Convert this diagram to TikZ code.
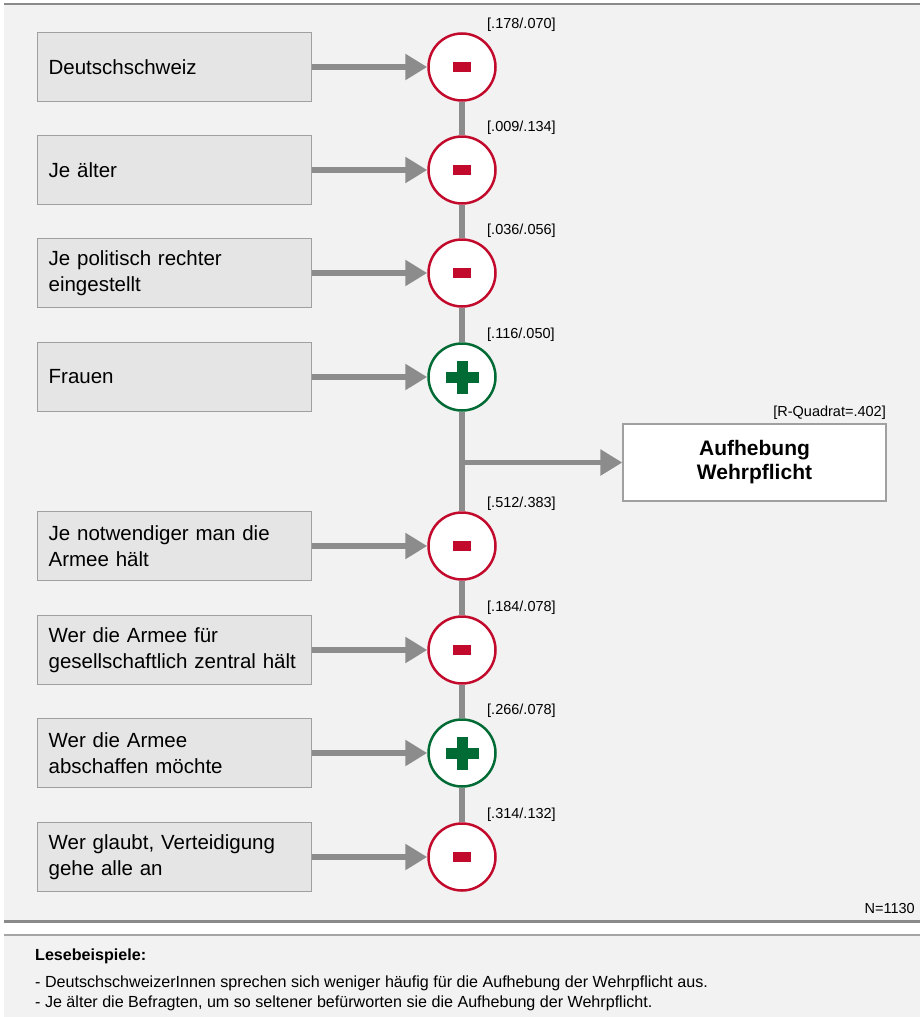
\documentclass[tikz,border=0pt]{standalone}
\usepackage{fontspec}
\setmainfont{Liberation Sans}
\usetikzlibrary{arrows.meta}
\definecolor{bgc}{HTML}{F2F2F2}
\definecolor{boxfill}{HTML}{E4E5E4}
\definecolor{boxborder}{HTML}{A0A0A0}
\definecolor{arrowgray}{HTML}{8C8C8C}
\definecolor{rulegray}{HTML}{8A8A8A}
\definecolor{rulegray2}{HTML}{A5A5A5}
\definecolor{redc}{HTML}{C20B2C}
\definecolor{greenc}{HTML}{006B35}
\tikzset{
  predbox/.style={draw=boxborder, fill=boxfill, line width=1.3pt, minimum width=274pt, minimum height=69pt,
    text width=252pt, align=left, inner xsep=11pt, inner ysep=0pt, anchor=west,
    font=\fontsize{20.5}{26}\selectfont},
  circred/.style={circle, draw=redc, fill=white, line width=2.5pt, minimum size=67pt, inner sep=0pt},
  circgreen/.style={circle, draw=greenc, fill=white, line width=2.5pt, minimum size=67pt, inner sep=0pt},
  minusbar/.style={fill=redc, minimum width=18pt, minimum height=10pt, inner sep=0pt},
  plush/.style={fill=greenc, minimum width=33pt, minimum height=11pt, inner sep=0pt},
  plusv/.style={fill=greenc, minimum width=11pt, minimum height=33pt, inner sep=0pt},
  conn/.style={draw=arrowgray, line width=5.5pt},
  arr/.style={conn, -{Triangle[length=22pt,width=25pt]}},
  lbl/.style={anchor=west, inner sep=0pt, font=\fontsize{14.5}{17}\selectfont},
  target/.style={draw=boxborder, fill=white, line width=1.3pt, minimum width=263pt, minimum height=77pt,
    align=center, inner sep=0pt, font=\fontsize{21}{24}\selectfont\bfseries},
  foot/.style={anchor=west, inner sep=0pt, font=\fontsize{16.1}{19}\selectfont}
}
\begin{document}
\begin{tikzpicture}[x=1pt,y=-1pt]
\useasboundingbox (0,0) rectangle (920,1017);
\fill[white] (0,0) rectangle (920,1017);
\fill[bgc] (4,4) rectangle (920,921);
\fill[bgc] (4,935) rectangle (920,1017);
\draw[rulegray, line width=2.2pt] (4,3.6) -- (920,3.6);
\draw[rulegray, line width=3pt] (4,921.5) -- (920,921.5);
\draw[rulegray2, line width=1.5pt] (4,935) -- (920,935);

% predictor boxes
\node[predbox] (b1) at (37,67) {Deutschschweiz};
\node[predbox] (b2) at (37,170) {Je älter};
\node[predbox] (b3) at (37,273) {Je politisch rechter\\eingestellt};
\node[predbox] (b4) at (37,377) {Frauen};
\node[predbox] (b5) at (37,546) {Je notwendiger man die\\Armee hält};
\node[predbox] (b6) at (37,650) {Wer die Armee für\\gesellschaftlich zentral hält};
\node[predbox] (b7) at (37,753) {Wer die Armee\\abschaffen möchte};
\node[predbox] (b8) at (37,857) {Wer glaubt, Verteidigung\\gehe alle an};

% circles
\node[circred] (c1) at (462,67) {};
\node[circred] (c2) at (462,170) {};
\node[circred] (c3) at (462,273) {};
\node[circgreen] (c4) at (462,377) {};
\node[circred] (c5) at (462,546) {};
\node[circred] (c6) at (462,650) {};
\node[circgreen] (c7) at (462,753) {};
\node[circred] (c8) at (462,857) {};

% signs
\node[minusbar] (m1) at (c1) {};
\node[minusbar] (m2) at (c2) {};
\node[minusbar] (m3) at (c3) {};
\node[plush] (p4h) at (c4) {};
\node[plusv] (p4v) at (c4) {};
\node[minusbar] (m5) at (c5) {};
\node[minusbar] (m6) at (c6) {};
\node[plush] (p7h) at (c7) {};
\node[plusv] (p7v) at (c7) {};
\node[minusbar] (m8) at (c8) {};

% coefficient labels
\node[lbl] (l1) at (487,25) {[.178/.070]};
\node[lbl] (l2) at (487,128) {[.009/.134]};
\node[lbl] (l3) at (487,231) {[.036/.056]};
\node[lbl] (l4) at (487,335) {[.116/.050]};
\node[lbl] (l5) at (487,504) {[.512/.383]};
\node[lbl] (l6) at (487,608) {[.184/.078]};
\node[lbl] (l7) at (487,711) {[.266/.078]};
\node[lbl] (l8) at (487,815) {[.314/.132]};

% target
\node[target] (t) at (754.5,462.5) {Aufhebung\\Wehrpflicht};
\node[lbl, anchor=east] (rq) at (886,413) {[R-Quadrat=.402]};

% vertical spine
\draw[conn] (c1.south) -- (c2.north);
\draw[conn] (c2.south) -- (c3.north);
\draw[conn] (c3.south) -- (c4.north);
\draw[conn] (c4.south) -- (c5.north);
\draw[conn] (c5.south) -- (c6.north);
\draw[conn] (c6.south) -- (c7.north);
\draw[conn] (c7.south) -- (c8.north);
\coordinate (j) at (462,462.5);
\draw[arr] (j) -- (t.west);

% arrows into circles
\draw[arr] (b1.east) -- (c1.west);
\draw[arr] (b2.east) -- (c2.west);
\draw[arr] (b3.east) -- (c3.west);
\draw[arr] (b4.east) -- (c4.west);
\draw[arr] (b5.east) -- (c5.west);
\draw[arr] (b6.east) -- (c6.west);
\draw[arr] (b7.east) -- (c7.west);
\draw[arr] (b8.east) -- (c8.west);

% N
\node[lbl, anchor=east] (n) at (915,908) {N=1130};

% footer
\node[foot, font=\fontsize{16.1}{19}\selectfont\bfseries] (f0) at (35,956) {Lesebeispiele:};
\node[foot] (f1) at (35,983) {- DeutschschweizerInnen sprechen sich weniger häufig für die Aufhebung der Wehrpflicht aus.};
\node[foot] (f2) at (35,1003) {- Je älter die Befragten, um so seltener befürworten sie die Aufhebung der Wehrpflicht.};
\end{tikzpicture}
\end{document}
